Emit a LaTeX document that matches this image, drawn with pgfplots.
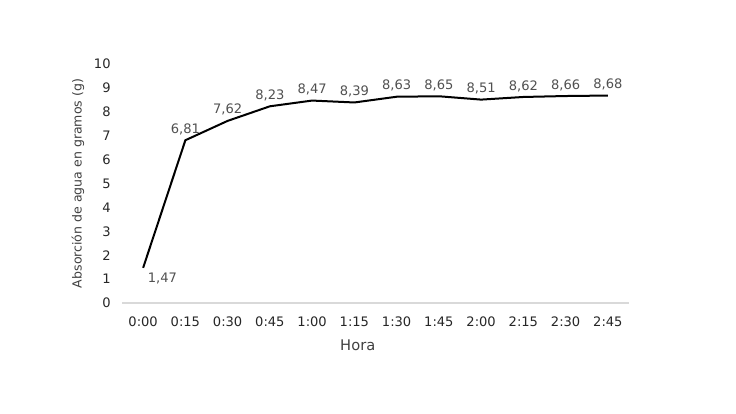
\documentclass[border=0pt]{standalone}
\usepackage{fontspec}
\setmainfont{DejaVu Sans}
\usepackage{pgfplots}
\pgfplotsset{compat=1.18}
\definecolor{txt}{HTML}{404040}
\definecolor{tck}{HTML}{262626}
\definecolor{lbl}{HTML}{505050}
\definecolor{axln}{HTML}{D9D9D9}
\pgfplotstableread{
x y lab
0 1.47 {1,47}
1 6.81 {6,81}
2 7.62 {7,62}
3 8.23 {8,23}
4 8.47 {8,47}
5 8.39 {8,39}
6 8.63 {8,63}
7 8.65 {8,65}
8 8.51 {8,51}
9 8.62 {8,62}
10 8.66 {8,66}
11 8.68 {8,68}
}\datatab
\begin{document}
\begin{tikzpicture}
\path[use as bounding box] (0,0) rectangle (552pt,310.5pt);
\begin{axis}[
  at={(91.5pt,83.25pt)}, anchor=south west,
  scale only axis, width=380.25pt, height=179.25pt,
  xmin=-0.5, xmax=11.5, ymin=0, ymax=10,
  xtick={0,...,11},
  xticklabels={0:00,0:15,0:30,0:45,1:00,1:15,1:30,1:45,2:00,2:15,2:30,2:45},
  ytick={0,...,10},
  axis x line=bottom, axis y line=left,
  x axis line style={draw=axln, line width=0.8pt, -},
  y axis line style={draw=none},
  major tick length=0pt,
  /pgf/number format/assume math mode=true,
  tick label style={font=\fontsize{9.8}{11}\selectfont, text=tck},
  xticklabel style={yshift=-7pt},
  yticklabel style={xshift=-5pt},
  xlabel={Hora}, ylabel={Absorción de agua en gramos (g)},
  every axis x label/.style={at={(axis description cs:0.465,-0.175)}, anchor=center, font=\fontsize{11}{13}\selectfont, text=txt},
  every axis y label/.style={at={(axis description cs:-0.087,0.5)}, anchor=center, rotate=90, font=\fontsize{9.4}{11}\selectfont, text=txt},
  clip=false,
]
\addplot[black, line width=1.5pt, mark=none] table[x=x,y=y] {\datatab};
\addplot[draw=none, mark=none, nodes near coords, point meta=explicit symbolic,
  every node near coord/.append style={font=\fontsize{9.8}{11}\selectfont, text=lbl, anchor=south, yshift=0.5pt}]
  table[x=x,y=y,meta=lab, skip coords between index={0}{1}] {\datatab};
\addplot[draw=none, mark=none, nodes near coords, point meta=explicit symbolic,
  every node near coord/.append style={font=\fontsize{9.8}{11}\selectfont, text=lbl, anchor=north west, xshift=0pt, yshift=0pt}]
  table[x=x,y=y,meta=lab, skip coords between index={1}{12}] {\datatab};
\end{axis}
\end{tikzpicture}
\end{document}
